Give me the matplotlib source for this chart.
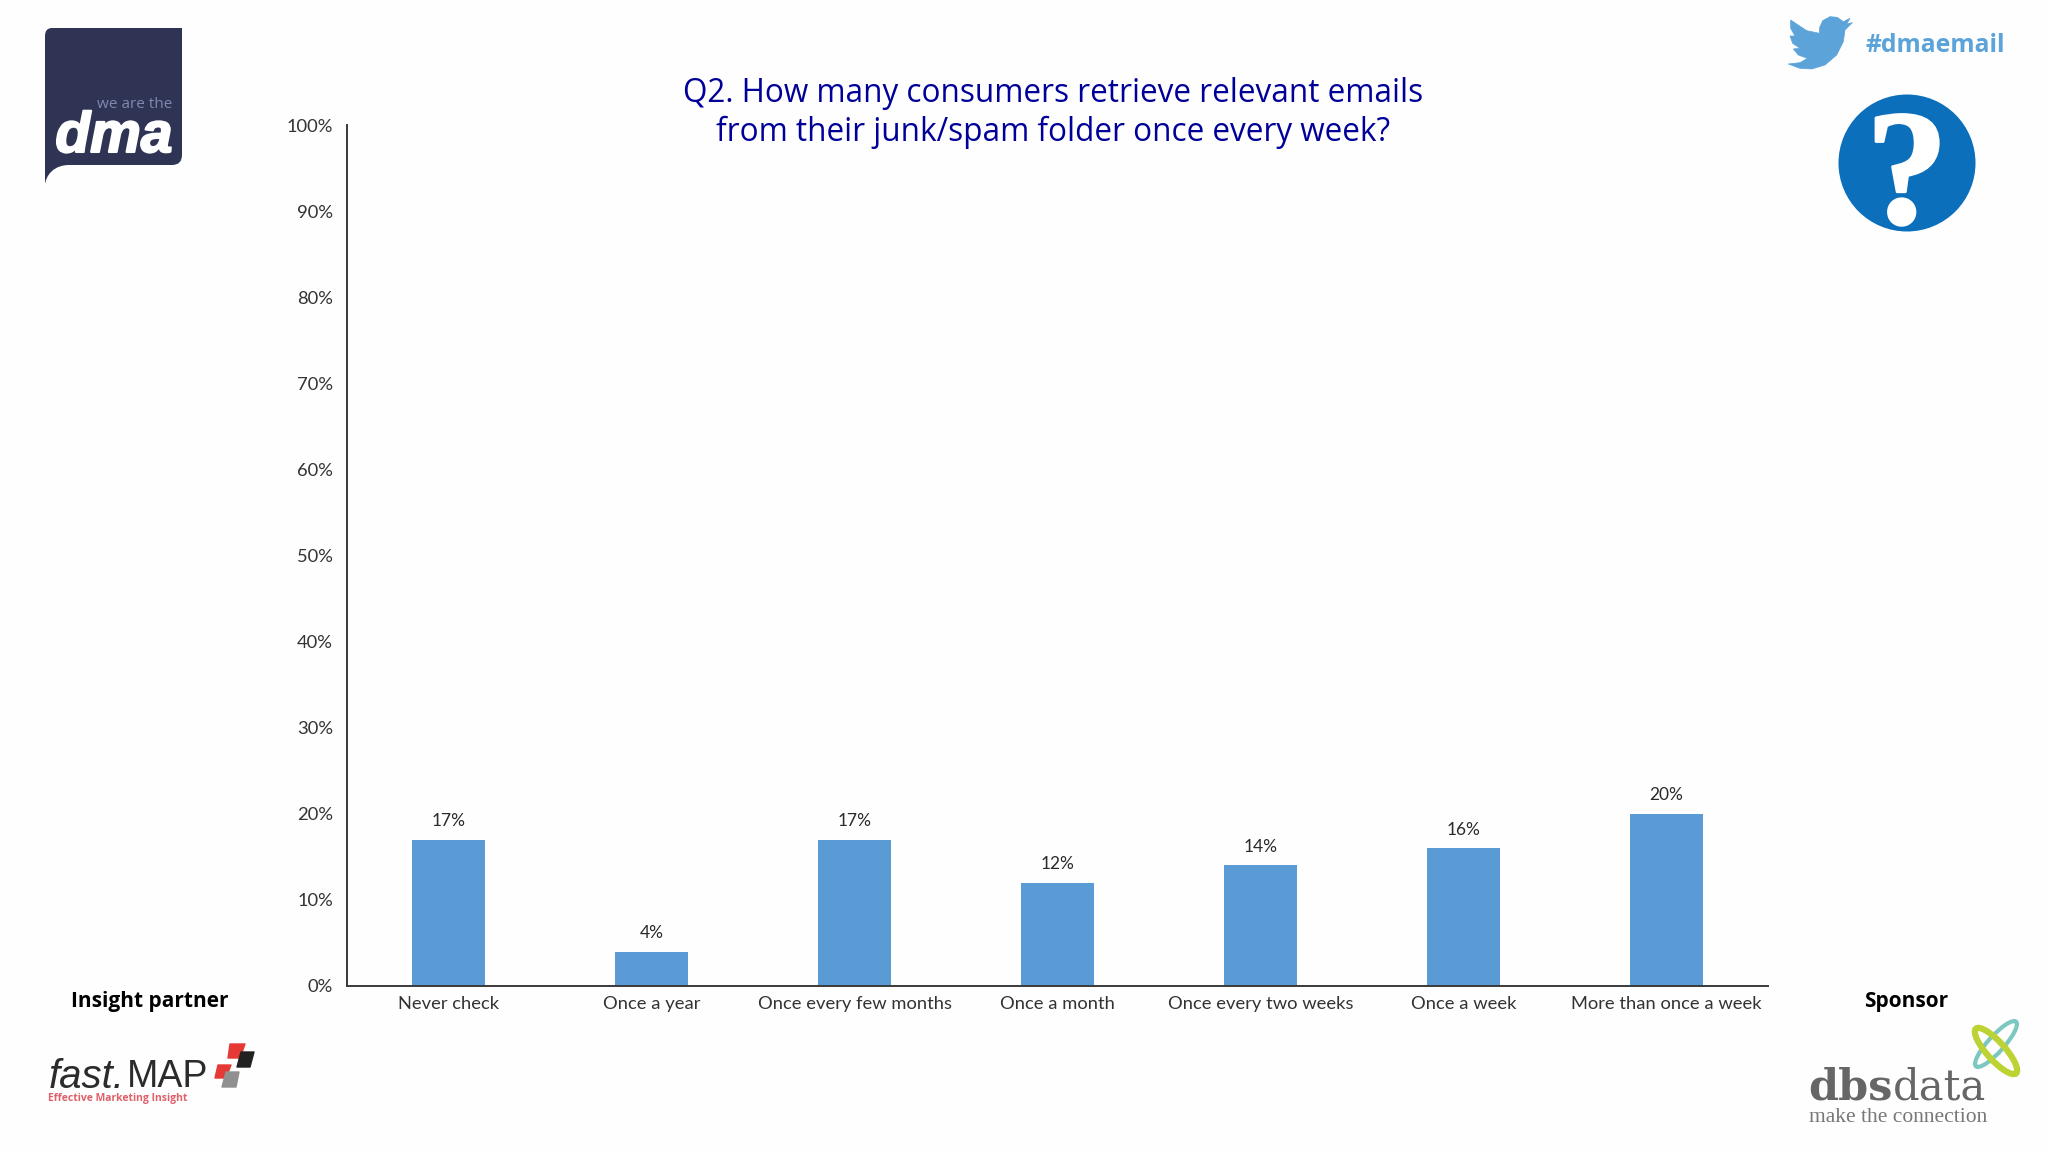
# 垃圾邮件文件夹调查柱状图
import matplotlib
matplotlib.use('Agg')
import matplotlib.pyplot as plt
import matplotlib.patheffects as pe
from matplotlib.patches import Circle, Ellipse, PathPatch, Polygon
from matplotlib.path import Path
from matplotlib.ticker import PercentFormatter

categories = ['Never check', 'Once a year', 'Once every few months', 'Once a month',
              'Once every two weeks', 'Once a week', 'More than once a week']
values = [17, 4, 17, 12, 14, 16, 20]
y_ticks = list(range(0, 101, 10))
title_lines = 'Q2. How many consumers retrieve relevant emails\nfrom their junk/spam folder once every week?'

W, H = 2048, 1152
fig = plt.figure(figsize=(W / 100, H / 100), dpi=100, facecolor='#fefefe')

# 主图
ax = fig.add_axes([347 / W, 1 - 986 / H, (1768 - 347) / W, (986 - 125) / H])
ax.set_facecolor('none')
bars = ax.bar(range(len(values)), values, width=0.36, color='#5B9BD5')
ax.bar_label(bars, labels=[f'{v}%' for v in values], padding=7.5, fontsize=12.5,
             family='Lato', color='#2a2a2a')
ax.set_xlim(-0.5, 6.5)
ax.set_ylim(0, 100)
ax.set_xticks(range(len(values)), categories)
ax.set_yticks(y_ticks)
ax.yaxis.set_major_formatter(PercentFormatter(decimals=0))
ax.tick_params(axis='both', length=0, labelcolor='#333333', labelsize=13.2)
ax.tick_params(axis='y', pad=10)
ax.tick_params(axis='x', pad=7)
for lab in ax.get_xticklabels() + ax.get_yticklabels():
    lab.set_family('Lato')
for s in ['top', 'right']:
    ax.spines[s].set_visible(False)
for s in ['left', 'bottom']:
    ax.spines[s].set_color('#3a3a3a')
    ax.spines[s].set_linewidth(1.4)

# 像素坐标的覆盖层，放标题和logo
ov = fig.add_axes([0, 0, 1, 1], zorder=5)
ov.set_xlim(0, W)
ov.set_ylim(H, 0)
ov.axis('off')
ov.patch.set_alpha(0)

ov.text(1053, 113, title_lines, ha='center', va='center', fontsize=22.7, color='#000099',
        family='Open Sans', linespacing=1.2)

ov.text(150, 1002, 'Insight partner', ha='center', va='center', fontsize=15,
        family='Open Sans', fontweight='bold', color='black')
ov.text(1906, 1002, 'Sponsor', ha='center', va='center', fontsize=15,
        family='Open Sans', fontweight='bold', color='black')

# dma logo
navy = '#2F3454'
logo = Path([(52, 28), (45, 28), (45, 36), (45, 184), (45, 184), (47, 166), (68, 165),
             (172, 165), (182, 165), (182, 155), (182, 28), (52, 28)],
            [Path.MOVETO, Path.CURVE3, Path.CURVE3, Path.LINETO, Path.CURVE4, Path.CURVE4, Path.CURVE4,
             Path.LINETO, Path.CURVE3, Path.CURVE3, Path.LINETO, Path.CLOSEPOLY])
ov.add_patch(PathPatch(logo, facecolor=navy, edgecolor='none'))
ov.text(172, 105, 'we are the', ha='right', va='center', fontsize=11, color='#7F88AE', family='Open Sans')
dma = ov.text(114, 137, 'dma', ha='center', va='center', fontsize=41, color='white',
              family='Liberation Sans', fontweight='bold', style='italic')
dma.set_path_effects([pe.withStroke(linewidth=1.5, foreground='white')])

# twitter
bird = [(300, 55), (280, 65), (262, 52), (240, 50), (218, 62), (208, 85), (209, 100), (170, 92),
        (122, 60), (122, 85), (135, 108), (120, 108), (128, 130), (150, 145), (130, 147), (145, 165),
        (172, 175), (150, 188), (115, 192), (150, 205), (185, 207), (225, 195), (260, 165), (280, 125),
        (285, 90), (300, 75), (307, 68), (290, 72)]
ov.add_patch(Polygon([(1750 + x / 3, y / 3) for x, y in bird], closed=True,
                     facecolor='#5BA3D9', edgecolor='#5BA3D9', lw=0.5, joinstyle='round'))
ov.text(2005, 45, '#dmaemail', ha='right', va='center', fontsize=17.8, color='#5BA3D9',
        family='Open Sans', fontweight='bold')

# 问号
ov.add_patch(Circle((1907, 163), 68.5, facecolor='#0B6FBB', edgecolor='none'))
qm = ov.text(1907, 184, '?', ha='center', va='center', fontsize=118, color='white',
             family='Liberation Serif', fontweight='bold')
qm.set_path_effects([pe.withStroke(linewidth=2, foreground='white')])

# fastMAP logo
ov.text(49, 1088, 'fast.', ha='left', va='baseline', fontsize=29, style='italic',
        family='Liberation Sans', color='#2b2b2b')
ov.text(127, 1087, 'MAP', ha='left', va='baseline', fontsize=27,
        family='Liberation Sans', color='#2b2b2b')
ov.text(48, 1101, 'Effective Marketing Insight', ha='left', va='baseline', fontsize=7.5,
        family='Open Sans', fontweight='bold', color='#E0606A')
squares = [((230, 1044), (245, 1044), (240, 1058), (228, 1058), '#E53935'),
           ((241, 1052), (254, 1052), (250, 1067), (237, 1067), '#222222'),
           ((218, 1065), (231, 1065), (226, 1078), (215, 1078), '#E53935'),
           ((226, 1072), (239, 1072), (236, 1087), (222, 1087), '#909090')]
for a, b, c, d, col in squares:
    ov.add_patch(Polygon([a, b, c, d], closed=True, facecolor=col, edgecolor=col, lw=1, joinstyle='round'))

# dbsdata logo
ov.text(1808, 1100, 'dbs', ha='left', va='baseline', fontsize=31, family='DejaVu Serif',
        fontweight='bold', color='#666666')
ov.text(1893, 1100, 'data', ha='left', va='baseline', fontsize=30, family='DejaVu Serif',
        color='#666666')
ov.text(1809, 1122, 'make the connection', ha='left', va='baseline', fontsize=15.5,
        family='Liberation Serif', color='#777777')
ov.add_patch(Ellipse((1996, 1044), 60, 16, angle=-48, facecolor='none', edgecolor='#7CC8C0', lw=3))
ov.add_patch(Ellipse((1996, 1051), 60, 18, angle=48, facecolor='none', edgecolor='#BDD233', lw=4.5))

fig.savefig('out.png', dpi=100, facecolor=fig.get_facecolor())
